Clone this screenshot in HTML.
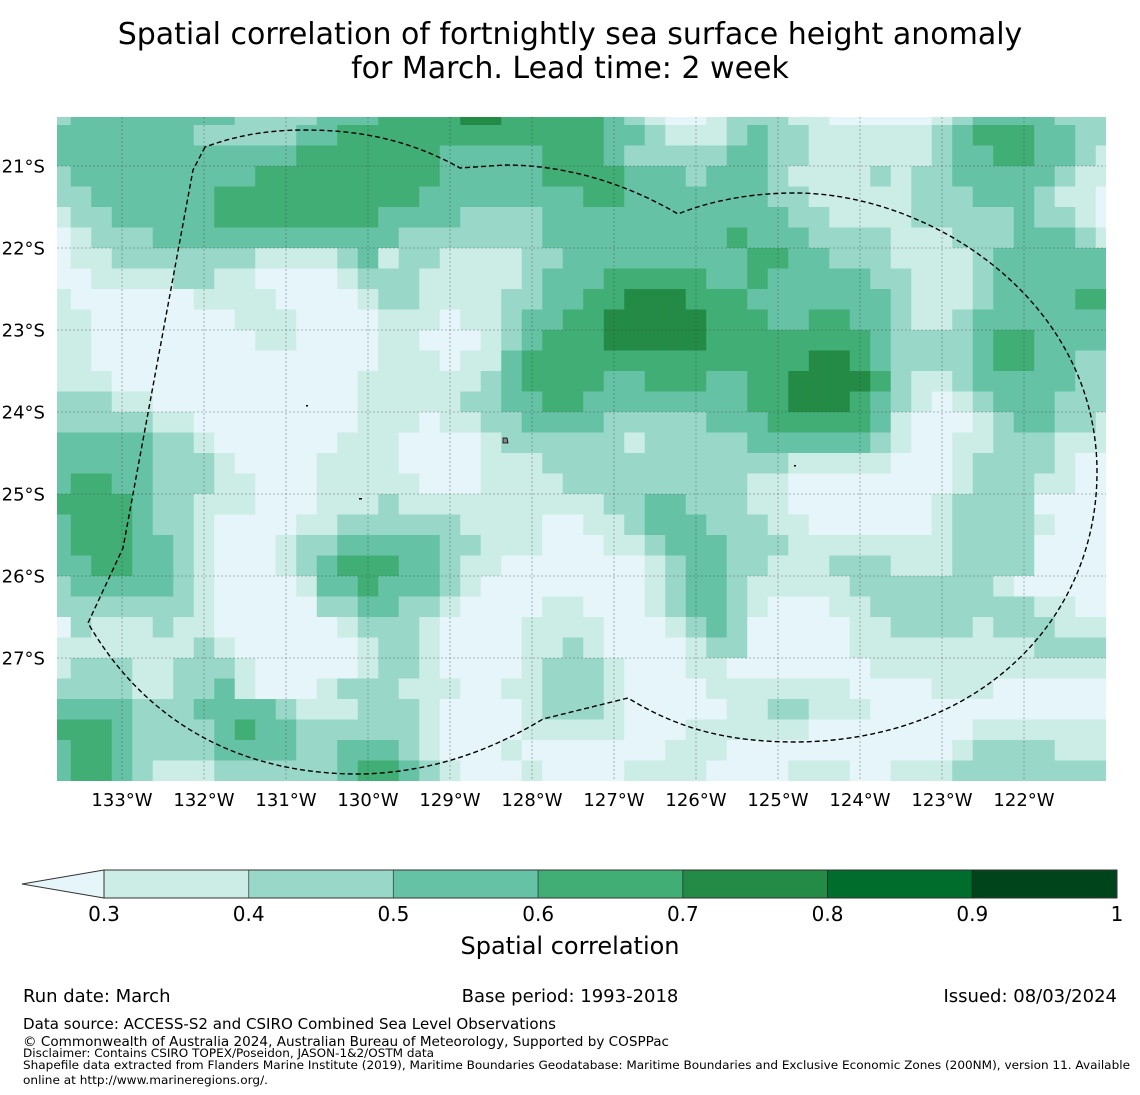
<!DOCTYPE html>
<html><head><meta charset="utf-8">
<style>
html,body{margin:0;padding:0;background:#fff;}
svg{display:block;font-family:"DejaVu Sans","Liberation Sans",sans-serif;}
</style></head>
<body>
<svg id="chart" width="1140" height="1095" viewBox="0 0 1140 1095" xmlns="http://www.w3.org/2000/svg">
  <defs><clipPath id="mapclip"><rect x="57" y="117" width="1049" height="664"/></clipPath></defs>
  <text x="570" y="44" text-anchor="middle" font-size="30">Spatial correlation of fortnightly sea surface height anomaly</text>
  <text x="570" y="78" text-anchor="middle" font-size="30">for March. Lead time: 2 week</text>
  <g id="map" clip-path="url(#mapclip)">
    <rect x="57" y="117" width="1049" height="664" fill="#e5f5f9"/>
    <g id="cells"></g>
    <g id="grid"></g>
    <path fill="none" stroke="#000" stroke-width="1.4" stroke-dasharray="5,3"
      d="M205,147 L193,170 L123,548 L88,623 C150,730 250,775 362,774 C440,772 500,745 543,719 L628,698 C680,730 730,742 797,742 C980,740 1097,620 1097,472 C1097,300 930,193 795,193 C740,193 700,205 678,214 C620,180 560,165 505,165 L460,168 C410,140 360,130 305,130 C260,130 230,138 205,147 Z"/>
    <path d="M503,438 l4,0 l1,5 l-5,0 z" fill="#888" stroke="#000" stroke-width="0.8"/>
    <rect x="306" y="405" width="2" height="1.5" fill="#000"/>
    <rect x="359" y="498" width="3" height="1.5" fill="#000"/>
    <rect x="794" y="465" width="2" height="1.5" fill="#000"/>
  </g>
  <g id="xlabels"></g>
  <g id="ylabels"></g>
  <g id="colorbar"></g>
  <text x="570" y="954" text-anchor="middle" font-size="24">Spatial correlation</text>
  <text x="23" y="1002" font-size="18">Run date: March</text>
  <text x="570" y="1002" text-anchor="middle" font-size="18">Base period: 1993-2018</text>
  <text x="1117" y="1002" text-anchor="end" font-size="18">Issued: 08/03/2024</text>
  <text x="23" y="1029" font-size="15" textLength="533" lengthAdjust="spacingAndGlyphs">Data source: ACCESS-S2 and CSIRO Combined Sea Level Observations</text>
  <text x="23" y="1046" font-size="13.5" textLength="646" lengthAdjust="spacingAndGlyphs">© Commonwealth of Australia 2024, Australian Bureau of Meteorology, Supported by COSPPac</text>
  <text x="23" y="1057" font-size="11.5" textLength="411" lengthAdjust="spacingAndGlyphs">Disclaimer: Contains CSIRO TOPEX/Poseidon, JASON-1&amp;2/OSTM data</text>
  <text x="23" y="1069" font-size="11.5" textLength="1107" lengthAdjust="spacingAndGlyphs">Shapefile data extracted from Flanders Marine Institute (2019), Maritime Boundaries Geodatabase: Maritime Boundaries and Exclusive Economic Zones (200NM), version 11. Available</text>
  <text x="23" y="1084" font-size="11.5" textLength="245" lengthAdjust="spacingAndGlyphs">online at http://www.marineregions.org/.</text>
</svg>
<script>
// correlation bin per cell (digit = bin index; bin k covers binEdges[k]..binEdges[k+1])
const binEdges = [0.2, 0.3, 0.4, 0.5, 0.6, 0.7, 0.8, 0.9, 1.0];
const binColors = ["#e5f5f9","#ccece6","#99d8c9","#66c2a4","#41ae76","#238b45","#006d2c","#00441b"];
const lonStart = -133.75, lonStep = 0.25;
const latStart = 20.25, latStep = 0.25;
const corrRows = [
"23333333322223334444554444"+"43210012221100000123333222",
"33333332222233444444444444"+"4332111232211"+"1111234443322",
"33333333333344444443333344"+"4322222332211"+"1111233443321",
"23333333334444444443333344"+"4433323332111"+"1212233333211",
"22333333444444444433333333"+"4433333332211"+"1112223332110",
"12233333444444443333222233"+"3333333333221"+"1112222232210",
"01222333333333333222222233"+"3333333433322"+"2211122233321",
"01122222221111231221111223"+"3333333344332"+"2211112333333",
"00111122110000122211111233"+"3444443343333"+"3221112333333",
"10000001111000012211112233"+"4455544433333"+"3321112333344",
"11000000011100001110112334"+"4555554443344"+"3321123333333",
"11000000001100001100012344"+"4555554444444"+"4322223443333",
"11000000000000001110113444"+"4444444444455"+"4322223443322",
"11100000000000011111123444"+"4334443344555"+"5421123333322",
"22211000000000011111223344"+"3333333344555"+"4321012333222",
"22222110000000011101122333"+"3222223334444"+"4310001233221",
"33333221000000111000012222"+"2212222233333"+"3210011222111",
"33333222100001111000011122"+"22222222221111100012222100",
"34433222110001111100011112"+"22222222110000000012221100",
"44443221110001112111111111"+"12233222110000000122220000",
"34443221000011222222111100"+"11233322211000000122221000",
"34443321000122333332211100"+"01123332221111111122220000",
"33443321000123444332110000"+"00012332211122211122220000",
"23333321000013343332100000"+"00012332111112222222100000",
"22222221000002233221000011"+"00012332100011222222221100",
"02111211000000122210000111"+"10001232000001122221222111",
"11111112100000012210000112"+"10000122000001111111112222",
"12221122210000012210000122"+"21000110000000111111111111",
"22221122310001222111001122"+"21000011111110000111000000",
"33332223333211122210000122"+"21000001122111000000000000",
"44432222343322222210000111"+"11000111111000000001111111",
"34432222333322333210001000"+"00001110000000000012222111",
"34432111222222344321000100"+"00111100001110011122222222"
];
const NS='http://www.w3.org/2000/svg';
function xOfLon(lon){ return 122 + (lon + 133) * 82; }
function yOfLat(latS){ return 166 + (latS - 21) * 82; }
const cellsG = document.getElementById('cells');
corrRows.forEach(function(row, r){
  for (let c = 0; c < row.length; c++){
    const bin = parseInt(row[c], 10);
    const lon0 = lonStart + c * lonStep - lonStep/2;
    const lat0 = latStart + r * latStep;
    const x0 = xOfLon(lon0), x1 = xOfLon(lon0 + lonStep);
    const y0 = yOfLat(lat0), y1 = yOfLat(lat0 + latStep);
    const rect = document.createElementNS(NS,'rect');
    rect.setAttribute('x', x0); rect.setAttribute('y', y0);
    rect.setAttribute('width', x1 - x0 + 0.3); rect.setAttribute('height', y1 - y0 + 0.3);
    rect.setAttribute('fill', binColors[bin]);
    rect.setAttribute('data-value', binEdges[bin] + 0.05);
    
    
    cellsG.appendChild(rect);
  }
});
const lonTicks = [-133,-132,-131,-130,-129,-128,-127,-126,-125,-124,-123,-122];
const lonLabels = ["133°W","132°W","131°W","130°W","129°W","128°W","127°W","126°W","125°W","124°W","123°W","122°W"];
const latTicks = [21,22,23,24,25,26,27];
const latLabels = ["21°S","22°S","23°S","24°S","25°S","26°S","27°S"];
const gridG = document.getElementById('grid');
const xl = document.getElementById('xlabels');
const yl = document.getElementById('ylabels');
lonTicks.forEach(function(lon,i){
  const x = xOfLon(lon);
  const ln = document.createElementNS(NS,'line');
  ln.setAttribute('x1',x); ln.setAttribute('x2',x); ln.setAttribute('y1',117); ln.setAttribute('y2',781);
  ln.setAttribute('stroke','rgba(60,60,60,0.45)'); ln.setAttribute('stroke-width','0.8'); ln.setAttribute('stroke-dasharray','2,2');
  
  
  gridG.appendChild(ln);
  const t = document.createElementNS(NS,'text');
  t.setAttribute('x',x); t.setAttribute('y',806); t.setAttribute('text-anchor','middle'); t.setAttribute('font-size','18');
  t.textContent = lonLabels[i];
  
  
  xl.appendChild(t);
});
latTicks.forEach(function(lat,i){
  const y = yOfLat(lat);
  const ln = document.createElementNS(NS,'line');
  ln.setAttribute('x1',57); ln.setAttribute('x2',1106); ln.setAttribute('y1',y); ln.setAttribute('y2',y);
  ln.setAttribute('stroke','rgba(60,60,60,0.45)'); ln.setAttribute('stroke-width','0.8'); ln.setAttribute('stroke-dasharray','2,2');
  
  
  gridG.appendChild(ln);
  const t = document.createElementNS(NS,'text');
  t.setAttribute('x',45); t.setAttribute('y',y+6.5); t.setAttribute('text-anchor','end'); t.setAttribute('font-size','18');
  t.textContent = latLabels[i];
  
  
  yl.appendChild(t);
});
// colorbar
const cbTicks = [0.3,0.4,0.5,0.6,0.7,0.8,0.9,1];
const cbLabels = ["0.3","0.4","0.5","0.6","0.7","0.8","0.9","1"];
const cbG = document.getElementById('colorbar');
function xOfCb(v){ return 104 + (v - 0.3) / 0.7 * 1013; }
const tri = document.createElementNS(NS,'polygon');
tri.setAttribute('points','104,870 22,884 104,898');
tri.setAttribute('fill',binColors[0]); tri.setAttribute('stroke','#333'); tri.setAttribute('stroke-width','1');


cbG.appendChild(tri);
for (let k = 0; k < cbTicks.length - 1; k++){
  const x0 = xOfCb(cbTicks[k]), x1 = xOfCb(cbTicks[k+1]);
  const r = document.createElementNS(NS,'rect');
  r.setAttribute('x',x0); r.setAttribute('y',870); r.setAttribute('width',x1-x0); r.setAttribute('height',28);
  r.setAttribute('fill',binColors[k+1]); r.setAttribute('stroke','rgba(0,0,0,0.4)'); r.setAttribute('stroke-width','1');
  
  
  cbG.appendChild(r);
}
const outline = document.createElementNS(NS,'rect');
outline.setAttribute('x',104); outline.setAttribute('y',870); outline.setAttribute('width',1013); outline.setAttribute('height',28);
outline.setAttribute('fill','none'); outline.setAttribute('stroke','#333'); outline.setAttribute('stroke-width','1');


cbG.appendChild(outline);
cbTicks.forEach(function(v,i){
  const t = document.createElementNS(NS,'text');
  t.setAttribute('x',xOfCb(v)); t.setAttribute('y',921); t.setAttribute('text-anchor','middle'); t.setAttribute('font-size','20');
  t.textContent = cbLabels[i];
  
  
  cbG.appendChild(t);
});
</script>
</body></html>
